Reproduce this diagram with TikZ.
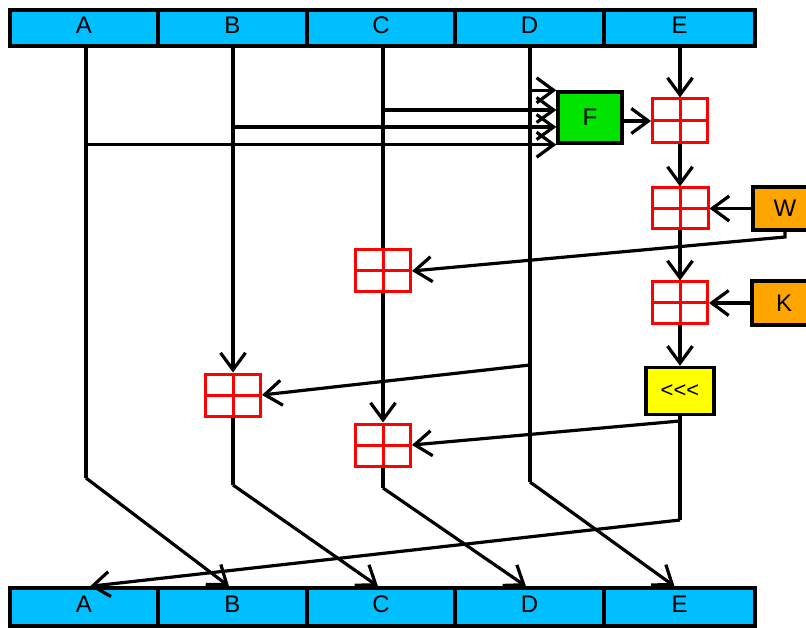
\documentclass[tikz,border=0pt]{standalone}
\usepackage{fontspec}
\setmainfont{Liberation Sans}
\usetikzlibrary{arrows.meta}
\definecolor{barblue}{RGB}{0,191,255}
\definecolor{fgreen}{RGB}{0,228,0}
\definecolor{korange}{RGB}{255,165,0}
\definecolor{ryellow}{RGB}{255,255,0}
\begin{document}
\begin{tikzpicture}[x=1pt,y=-1pt,
  ln/.style={line width=3.2pt},
  arr/.style={line width=3.2pt, -{Straight Barb[length=17pt,width=25pt]}},
  cell/.style={draw=black, line width=3.4pt, fill=barblue, inner sep=0pt,
    text height=17pt, text depth=6pt, font=\fontsize{24}{26}\selectfont},
  adder/.style={draw=red, line width=3pt, inner sep=0pt,
    minimum width=55pt, minimum height=42pt,
    path picture={\draw[red, line width=3pt]
      (path picture bounding box.north) -- (path picture bounding box.south)
      (path picture bounding box.west) -- (path picture bounding box.east);}},
  opbox/.style={draw=black, line width=3.4pt, inner sep=0pt,
    font=\fontsize{24}{26}\selectfont}
]
\useasboundingbox (0,0) rectangle (806,628);

% top register
\node[cell, minimum width=148pt, minimum height=36pt] (tA) at (84,28) {A};
\node[cell, minimum width=149pt, minimum height=36pt] (tB) at (232.5,28) {B};
\node[cell, minimum width=148pt, minimum height=36pt] (tC) at (381,28) {C};
\node[cell, minimum width=149pt, minimum height=36pt] (tD) at (529.5,28) {D};
\node[cell, minimum width=151pt, minimum height=36pt] (tE) at (679.5,28) {E};
% bottom register
\node[cell, minimum width=148pt, minimum height=38pt] (bA) at (84,607) {A};
\node[cell, minimum width=149pt, minimum height=38pt] (bB) at (232.5,607) {B};
\node[cell, minimum width=148pt, minimum height=38pt] (bC) at (381,607) {C};
\node[cell, minimum width=149pt, minimum height=38pt] (bD) at (529.5,607) {D};
\node[cell, minimum width=151pt, minimum height=38pt] (bE) at (679.5,607) {E};

% function boxes
\node[opbox, fill=fgreen, minimum width=64pt, minimum height=51pt] (F) at (590,117.5) {F};
\node[opbox, fill=korange, minimum width=64pt, minimum height=43pt] (W) at (785,208.5) {W};
\node[opbox, fill=korange, minimum width=64pt, minimum height=44pt] (K) at (784,303) {K};
\node[opbox, fill=ryellow, minimum width=68pt, minimum height=47pt,
  font=\fontsize{22}{24}\selectfont] (rot) at (680,391) {<{}<{}<};

% adders
\node[adder, minimum height=44pt] (add1) at (680,121) {};
\node[adder, minimum width=56pt, minimum height=41pt] (add2) at (680,208.5) {};
\node[adder] (add3) at (383,271) {};
\node[adder] (add4) at (680,303) {};
\node[adder] (add5) at (233,395) {};
\node[adder] (add6) at (383,445) {};

% bend points
\coordinate (aBend) at (86,478);
\coordinate (bBend) at (233,485);
\coordinate (cBend) at (383,488);
\coordinate (dBend) at (530,482);
\coordinate (eBend) at (680,520);
\coordinate (wBend) at (785,237);
\coordinate (rBend) at (680,421);
\coordinate (dTap) at (530,365);

% column A
\draw[ln] (tA.south -| aBend) -- (aBend);
\draw[arr] (aBend) -- ([xshift=-3.5pt]bB.north);
\draw[arr] (aBend |- F.south west) -- (F.south west);
% column B
\draw[arr] (tB.south -| bBend) -- (add5.north);
\draw[ln] (add5.south) -- (bBend);
\draw[arr] (bBend) -- ([xshift=-3pt]bC.north);
\draw[arr] (bBend |- 0,127) -- (F.west |- 0,127);
% column C
\draw[ln] (tC.south -| cBend) -- (add3.north);
\draw[arr] (add3.south) -- (add6.north);
\draw[ln] (add6.south) -- (cBend);
\draw[arr] (cBend) -- ([xshift=-3.5pt]bD.north);
\draw[arr] (cBend |- 0,110) -- (F.west |- 0,110);
% column D
\draw[ln] (tD.south -| dBend) -- (dBend);
\draw[arr] (dBend) -- ([xshift=-5pt]bE.north);
\draw[arr] (dBend |- F.north west) -- (F.north west);
\draw[arr] (dTap) -- (add5.east);
% column E
\draw[arr] (tE.south -| add1) -- (add1.north);
\draw[arr] (F.east |- add1.west) -- (add1.west);
\draw[arr] (add1.south) -- (add2.north);
\draw[arr] (add2.south) -- (add4.north);
\draw[arr] (add4.south) -- (rot.north);
\draw[arr] (W.west) -- (add2.east);
\draw[arr] (K.west) -- (add4.east);
\draw[arr] (W.south -| wBend) -- (wBend) -- (add3.east);
\draw[arr] (rBend) -- (add6.east);
\draw[ln] (rot.south) -- (eBend);
\draw[arr] (eBend) -- ([xshift=6pt]bA.north);
\end{tikzpicture}
\end{document}
